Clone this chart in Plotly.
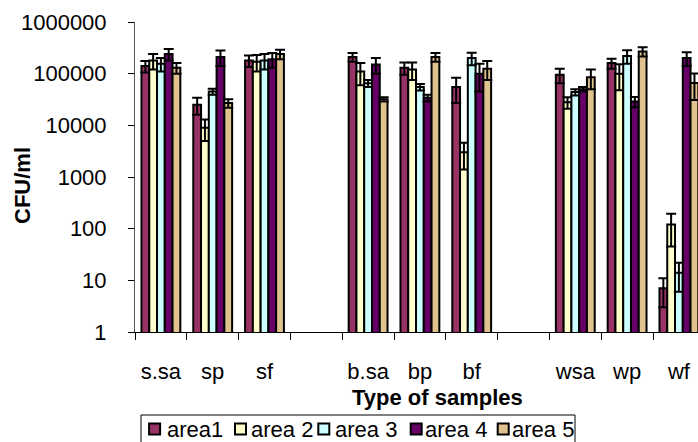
import plotly.graph_objects as go

categories = ["s.sa", "sp", "sf", " ", "b.sa", "bp", "bf", "  ", "wsa", "wp", "wf"]
series_names = ["area1", "area 2", "area 3", "area 4", "area 5"]

area1 = [140000, 25000, 180000, None, 210000, 130000, 55000, None, 95000, 160000, 7]
err1 = [35000, 9000, 45000, None, 40000, 35000, 28000, None, 30000, 35000, 4]
area2 = [180000, 9000, 170000, None, 110000, 120000, 3000, None, 28000, 100000, 120]
err2 = [60000, 4000, 60000, None, 50000, 45000, 1600, None, 7000, 52000, 75]
area3 = [155000, 45000, 180000, None, 65000, 55000, 200000, None, 44000, 220000, 14]
err3 = [45000, 6000, 60000, None, 10000, 8000, 55000, None, 6000, 65000, 8]
area4 = [240000, 210000, 190000, None, 150000, 34000, 100000, None, 50000, 29000, 200000]
err4 = [60000, 70000, 60000, None, 50000, 5000, 55000, None, 5000, 6500, 60000]
area5 = [130000, 27000, 240000, None, 32000, 210000, 125000, None, 85000, 270000, 66000]
err5 = [30000, 5000, 50000, None, 3000, 40000, 50000, None, 35000, 55000, 35000]

y_tickvals = [1, 10, 100, 1000, 10000, 100000, 1000000]
y_ticktext = ["1", "10", "100", "1000", "10000", "100000", "1000000"]

colors = ["#993366", "#FFFFCC", "#CCFFFF", "#660066", "#E0C28E"]
values = [area1, area2, area3, area4, area5]
errors = [err1, err2, err3, err4, err5]

FONT = "Liberation Sans, Arial, sans-serif"
W, H = 698, 442
L, R, T, B = 135, 698, 22, 332


def px_x(p):
    return (p - L) / (R - L)


def px_y(p):
    return (B - p) / (B - T)


fig = go.Figure()
for name, col, vals, errs in zip(series_names, colors, values, errors):
    fig.add_trace(go.Bar(
        x=categories, y=vals, name=name,
        marker=dict(color=col, line=dict(color="black", width=2)),
        error_y=dict(type="data", array=errs, visible=True,
                     color="black", thickness=2, width=5),
    ))

# manual legend (box, swatches, labels)
shapes = [dict(type="rect", xref="paper", yref="paper",
               x0=px_x(141), x1=px_x(575), y0=px_y(460), y1=px_y(415),
               line=dict(color="black", width=1), fillcolor="white")]
annotations = []
sw_centers = [154.6, 240.5, 323.8, 416.2, 503.2]
txt_left = [165, 249, 332.5, 423, 510]
leg_y = 429
for c, tx, name, col in zip(sw_centers, txt_left, series_names, colors):
    shapes.append(dict(type="rect", xref="paper", yref="paper",
                       x0=px_x(c - 5.5), x1=px_x(c + 5.5),
                       y0=px_y(leg_y + 5.5), y1=px_y(leg_y - 5.5),
                       line=dict(color="black", width=2), fillcolor=col))
    annotations.append(dict(text=name, xref="paper", yref="paper",
                            x=px_x(tx), y=px_y(leg_y), xanchor="left", yanchor="middle",
                            showarrow=False, font=dict(family=FONT, size=22, color="black")))

annotations.append(dict(text="<b>Type of samples</b>", xref="paper", yref="paper",
                        x=px_x(437), y=px_y(397), xanchor="center", yanchor="middle",
                        showarrow=False, font=dict(family=FONT, size=22, color="black")))
annotations.append(dict(text="<b>CFU/ml</b>", xref="paper", yref="paper",
                        x=px_x(22), y=px_y(185), xanchor="center", yanchor="middle",
                        textangle=-90, showarrow=False,
                        font=dict(family=FONT, size=22, color="black")))

fig.update_layout(
    width=W, height=H,
    margin=dict(l=L, r=W - R, t=T, b=H - B, autoexpand=False),
    plot_bgcolor="white", paper_bgcolor="white",
    barmode="group", bargap=0.25, bargroupgap=0,
    showlegend=False,
    font=dict(family=FONT, size=22, color="black"),
    shapes=shapes, annotations=annotations,
)
fig.update_xaxes(
    type="category", categoryorder="array", categoryarray=categories,
    range=[-0.5, -0.5 + (R - L) / 51.8],
    showline=True, linecolor="black", linewidth=1,
    ticks="outside", ticklen=7, tickcolor="black", tickson="boundaries",
    ticklabelstandoff=20, showgrid=False, zeroline=False,
    tickfont=dict(family=FONT, size=22, color="black"),
)
fig.update_yaxes(
    type="log", range=[0, 6],
    tickvals=y_tickvals, ticktext=y_ticktext,
    showline=True, linecolor="#555555", linewidth=1,
    ticks="outside", ticklen=6, tickcolor="black",
    ticklabelstandoff=17, showgrid=False, zeroline=False,
    tickfont=dict(family=FONT, size=22, color="black"),
)

fig.write_html("out.html", config={"displayModeBar": False},
               post_script="document.body.style.margin='0';document.body.style.padding='0';")
